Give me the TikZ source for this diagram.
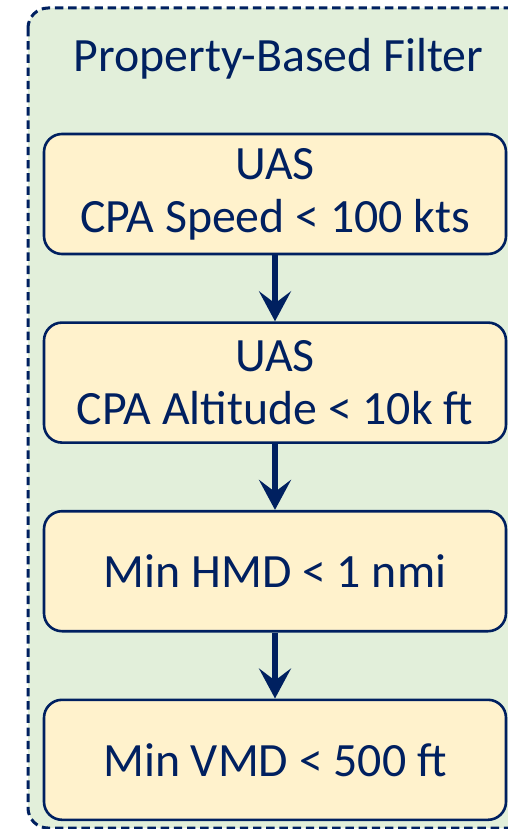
\documentclass[tikz,border=0pt]{standalone}
\usepackage{fontspec}
\setmainfont{Carlito}
\usepackage{xcolor}
\definecolor{navy}{HTML}{002060}
\definecolor{filtergreen}{HTML}{E2EFDA}
\definecolor{stepyellow}{HTML}{FFF2CC}
\usetikzlibrary{positioning,arrows.meta}

\begin{document}
\begin{tikzpicture}[x=0.5pt,y=-0.5pt,node distance=33pt,
  filterbox/.style={draw=navy,fill=stepyellow,line width=1.3pt,rounded corners=9pt,
    minimum width=231pt,minimum height=60pt,align=center,text=navy,
    font=\fontsize{23.9}{26.5}\selectfont},
  flowarrow/.style={navy,line width=2.6pt,-{Stealth[length=15pt,width=16pt,inset=6pt]}}]
  \useasboundingbox (0,0) rectangle (508,829);
  \clip (0,0) rectangle (508,829);

  % outer dashed frame, runs off the right edge
  \draw[navy,fill=filtergreen,line width=1.5pt,dash pattern=on 4.2pt off 2.4pt,
    rounded corners=10pt] (28,8) rectangle (529,828);
  \node[text=navy,font=\fontsize{23.9}{26.5}\selectfont,anchor=base] (title)
    at (278.5,72) {Property-Based Filter};

  % the filter steps
  \node[filterbox] (speed) at (275,194) {UAS\\CPA Speed < 100 kts};
  \node[filterbox,below=of speed] (altitude) {UAS\\CPA Altitude < 10k ft};
  \node[filterbox,below=of altitude] (hmd) {Min HMD < 1 nmi};
  \node[filterbox,below=of hmd] (vmd) {Min VMD < 500 ft};

  \draw[flowarrow] (speed) -- (altitude);
  \draw[flowarrow] (altitude) -- (hmd);
  \draw[flowarrow] (hmd) -- (vmd);
\end{tikzpicture}
\end{document}
